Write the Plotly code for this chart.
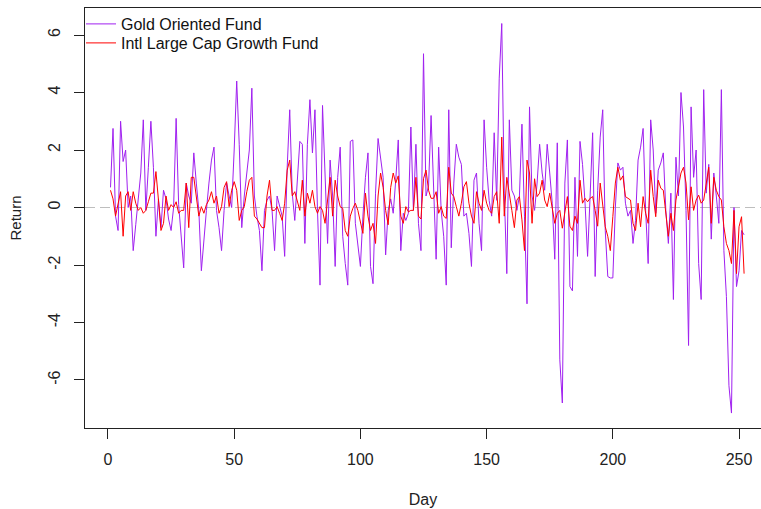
import plotly.graph_objects as go

# Daily returns (%), days 1..252
gold_oriented = [
    0.7, 2.75, -0.3, -0.8, 3.0, 1.6, 2.0, 0.0, 0.4, -1.5,
    -0.6, 0.4, 1.2, 3.05, -0.1, 1.4, 3.0, 1.4, -1.0, 0.3,
    -0.7, 0.6, 0.3, -0.4, -0.8, 0.0, 3.1, 0.1, -1.1, -2.1,
    0.85, 0.4, 0.15, 1.9, 0.85, -0.1, -2.2, -1.0, -0.1, 0.85,
    1.65, 2.1, -0.1, -0.7, -1.5, -0.1, 0.85, 0.4, 0.0, 2.0,
    4.4, 2.2, -0.7, 0.4, 1.1, 2.0, 4.15, 0.4, -0.3, -0.8,
    -2.2, -0.1, 0.25, 0.4, -0.1, -1.5, 0.4, 0.0, -0.3, -1.7,
    1.4, 3.4, 0.5, -0.45, 1.05, 2.3, 2.2, -1.25, 2.2, 3.75,
    1.9, 3.4, -0.1, -2.7, 3.55, 1.0, -1.25, 1.65, 0.4, -2.05,
    1.05, 2.1, -1.0, -1.95, -2.7, 2.3, 2.35, -0.55, -1.25, -2.05,
    -0.3, 1.05, 1.9, -2.05, -2.65, 0.5, 2.4, 1.7, 1.05, -1.65,
    -0.1, 0.3, -0.2, 0.95, 2.35, -1.5, -0.2, -0.45, -0.2, 2.8,
    -0.1, 2.2, -0.55, -1.5, 5.35, 0.4, 0.75, 3.2, 0.4, -1.8,
    2.1, -0.1, -1.0, -2.7, 3.4, -1.4, 0.85, 2.2, 1.75, 1.5,
    -0.3, -0.2, -0.9, -2.05, 0.95, 1.2, -0.55, -1.5, 3.05, 1.4,
    0.25, -0.3, 2.6, 0.25, 4.5, 6.4, 0.5, -2.3, 3.05, 0.6,
    0.4, -0.1, 0.4, 2.9, -0.3, -3.35, 3.5, 0.4, -0.1, 0.85,
    2.2, 1.2, 0.6, 2.2, 1.2, 0.15, -1.8, 2.25, -5.3, -6.8,
    0.85, 2.35, -2.75, -2.9, 1.05, -1.7, 2.3, 1.5, 0.15, -1.7,
    0.4, 2.6, -2.4, 0.6, 2.45, 3.4, -0.8, -2.4, -2.45, -2.45,
    0.0, 1.55, 1.3, 1.4, 0.15, -0.3, -0.1, -1.25, -0.45, 1.65,
    2.1, 2.75, -0.1, -1.95, 3.05, 2.0, -0.2, 1.3, 1.55, 1.9,
    -0.1, -1.25, 0.5, -3.2, 1.75, 0.4, 4.0, 2.8, -0.1, -4.8,
    3.5, 1.05, 2.0, -1.95, -3.2, 4.1, 0.5, 1.5, -1.1, 1.2,
    0.4, -0.55, 4.1, -1.5, -3.1, -6.2, -7.15, 0.0, -2.75, -2.2,
    -0.8, -0.95,
]

intl_large_cap_growth = [
    0.6, 0.3, -0.3, 0.1, 0.55, -1.0, 0.4, 0.55, -0.1, 0.55,
    0.15, -0.1, 0.0, -0.2, -0.1, 0.2, 0.5, 0.5, 1.25, 0.26,
    -0.8, -0.55, 0.4, -0.1, 0.1, 0.0, 0.2, -0.2, -0.1, -0.1,
    0.85, -0.7, 1.05, 1.05, 0.26, -0.3, 0.03, -0.2, 0.1, 0.26,
    0.55, 0.15, 0.4, -0.2, 0.03, 0.7, 0.9, 0.03, 0.6, 0.9,
    0.6, -0.45, -0.1, 0.03, 0.55, 0.95, 1.05, -0.3, -0.4, -0.55,
    -0.7, -0.7, 0.4, 0.95, -0.1, -0.1, 0.03, -0.2, -0.45, 0.15,
    1.3, 1.65, 0.4, 0.55, 0.26, -0.1, 0.95, -0.3, 0.5, 0.15,
    0.6, 0.03, -0.2, 0.03, -0.1, -0.55, 0.26, 1.05, -0.3, 0.95,
    0.4, 0.03, -0.03, -0.8, -1.0, -0.3, -0.03, 0.15, -0.1, -0.55,
    -0.9, 0.5, -0.3, -0.8, -0.55, -1.25, 0.4, 1.2, 0.7, -0.1,
    -0.6, 0.7, 1.2, 0.85, 1.1, -0.3, -0.55, 0.03, -0.15, -0.1,
    -0.1, 1.05, -0.3, -0.4, 1.0, 1.3, 0.6, 0.32, 0.32, 0.55,
    -0.2, 0.03, -0.3, -0.38, 1.4, 0.5, 0.38, 0.03, -0.3, 0.15,
    0.72, 0.9, 0.15, -0.3, -0.55, 0.55, 0.15, -0.1, 0.6, 0.15,
    -0.1, -0.2, 0.38, 0.55, -0.55, 2.45, -0.3, 1.05, 0.38, -0.1,
    -0.7, 0.26, 0.38, -0.43, -1.5, 1.65, 1.2, -0.55, 1.0, 0.38,
    0.5, 0.95, 0.26, 0.03, 0.5, -0.1, -0.55, -0.2, -0.1, -0.72,
    -0.1, 0.38, -0.65, -0.8, -0.3, -0.55, 0.95, 0.15, 0.32, 0.2,
    0.32, 0.38, -0.1, -0.65, 0.85, 0.15, -0.67, -1.0, -1.5, -0.32,
    0.85, 1.4, 0.95, 1.1, 0.38, 0.32, 0.26, -0.55, -0.8, 0.15,
    -0.67, 0.38, -0.2, -0.55, 1.3, 0.38, -0.32, 0.95, 0.67, 0.6,
    -0.1, -1.0, -0.2, -0.8, 0.26, 0.72, 1.2, 1.4, 0.85, -0.43,
    0.72, -0.1, 0.26, 0.43, 0.15, 0.26, 0.85, 1.4, -0.55, 1.05,
    0.6, 0.38, 0.26, -0.67, -1.25, -1.5, -1.95, -0.1, -2.3, -0.67,
    -0.32, -2.3,
]

days = list(range(1, len(gold_oriented) + 1))
days_r = list(range(1, len(intl_large_cap_growth) + 1))

x_ticks = [0, 50, 100, 150, 200, 250]
y_ticks = [-6, -4, -2, 0, 2, 4, 6]

FONT = "Liberation Sans, Arial, sans-serif"
AXIS_COL = "#222222"

fig = go.Figure()
fig.add_trace(go.Scatter(
    x=days, y=gold_oriented, mode="lines", name="Gold Oriented Fund",
    line=dict(color="#A020F0", width=1), legend="legend",
))
fig.add_trace(go.Scatter(
    x=days_r, y=intl_large_cap_growth, mode="lines", name="Intl Large Cap Growth Fund",
    line=dict(color="#FF0000", width=1), legend="legend2",
))

# dashed zero reference line
fig.add_shape(type="line", xref="paper", yref="y", x0=0, x1=1, y0=0, y1=0,
              line=dict(color="#BEBEBE", width=1, dash="10px,5px"), layer="below")

leg_common = dict(
    xanchor="left", yanchor="middle",
    bgcolor="rgba(0,0,0,0)", borderwidth=0,
    font=dict(family=FONT, size=16, color="#111111"),
    itemwidth=30,
)
plot_h = 509 - 8 - 81
fig.update_layout(
    width=761, height=509,
    margin=dict(l=85, r=0, t=8, b=81, autoexpand=False),
    paper_bgcolor="white", plot_bgcolor="white",
    font=dict(family=FONT, size=16, color="#222222"),
    showlegend=True,
    legend=dict(x=-4 / 676, y=1 - (24 - 8) / plot_h, **leg_common),
    legend2=dict(x=-4 / 676, y=1 - (43 - 8) / plot_h, **leg_common),
    xaxis=dict(
        range=[-9.1, 258.7], tickmode="array", tickvals=x_ticks,
        ticktext=[str(v) for v in x_ticks],
        showgrid=False, zeroline=False,
        showline=True, linecolor=AXIS_COL, linewidth=1, mirror=True,
        ticks="outside", ticklen=10, tickwidth=1, tickcolor=AXIS_COL,
        ticklabelstandoff=7,
        title=dict(text="Day", standoff=26, font=dict(family=FONT, size=16)),
        automargin=False,
    ),
    yaxis=dict(
        range=[-7.67, 6.94], tickmode="array", tickvals=y_ticks,
        ticktext=[str(v) for v in y_ticks],
        showgrid=False, zeroline=False,
        showline=True, linecolor=AXIS_COL, linewidth=1, mirror=False,
        ticks="outside", ticklen=10, tickwidth=1, tickcolor=AXIS_COL,
        tickangle=-90, ticklabelstandoff=8,
        title=dict(text="Return", standoff=20, font=dict(family=FONT, size=15)),
        automargin=False,
    ),
)

fig.write_html("out.html")
